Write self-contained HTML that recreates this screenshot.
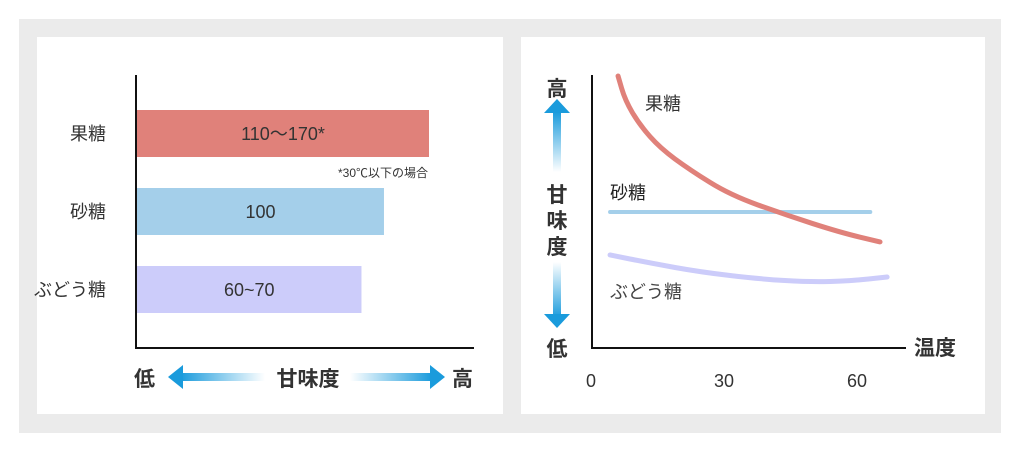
<!DOCTYPE html>
<html><head><meta charset="utf-8"><style>
body{margin:0;background:#fff;}
svg{display:block;font-family:"Liberation Sans","Noto Sans CJK JP",sans-serif;}
</style></head><body>
<svg width="1022" height="452" viewBox="0 0 1022 452">
<defs>
<linearGradient id="gl" x1="0" x2="1" y1="0" y2="0"><stop offset="0" stop-color="#1a9bdc"/><stop offset="1" stop-color="#1a9bdc" stop-opacity="0"/></linearGradient>
<linearGradient id="gr" x1="1" x2="0" y1="0" y2="0"><stop offset="0" stop-color="#1a9bdc"/><stop offset="1" stop-color="#1a9bdc" stop-opacity="0"/></linearGradient>
<linearGradient id="gu" x1="0" x2="0" y1="0" y2="1"><stop offset="0" stop-color="#1a9bdc"/><stop offset="1" stop-color="#1a9bdc" stop-opacity="0"/></linearGradient>
<linearGradient id="gd" x1="0" x2="0" y1="1" y2="0"><stop offset="0" stop-color="#1a9bdc"/><stop offset="1" stop-color="#1a9bdc" stop-opacity="0"/></linearGradient>
</defs>
<rect x="19" y="19" width="982" height="414" fill="#ebebeb"/>
<rect x="37" y="37" width="466" height="377" fill="#fff"/>
<rect x="521" y="37" width="464" height="377" fill="#fff"/>

<g id="bars"></g>
<line x1="136" y1="75" x2="136" y2="349" stroke="#111" stroke-width="2"/>
<line x1="135" y1="348" x2="474" y2="348" stroke="#111" stroke-width="2"/>
<text x="428" y="177" font-size="12" text-anchor="end" fill="#333">*30℃以下の場合</text>

<g font-weight="bold" font-size="21" fill="#333">
<text x="134" y="386">低</text>
<rect x="180" y="373" width="85" height="8" fill="url(#gl)"/>
<polygon points="168,377 183,365 183,389" fill="#1a9bdc"/>
<text x="308" y="386" text-anchor="middle">甘味度</text>
<rect x="350" y="373" width="82" height="8" fill="url(#gr)"/>
<polygon points="445,377 430,365 430,389" fill="#1a9bdc"/>
<text x="452" y="386">高</text>
</g>

<g id="lines"></g>
<line x1="592" y1="75" x2="592" y2="349" stroke="#111" stroke-width="2"/>
<line x1="591" y1="348" x2="906" y2="348" stroke="#111" stroke-width="2"/>
<text x="914" y="355" font-size="21" font-weight="bold" fill="#333">温度</text>
<g id="ticks"></g>

<g font-weight="bold" font-size="21" fill="#333" text-anchor="middle">
<text x="557" y="96">高</text>
<polygon points="557,99 544,113 570,113" fill="#1a9bdc"/>
<rect x="553" y="112" width="8" height="60" fill="url(#gu)"/>
<text x="557" y="202">甘</text>
<text x="557" y="228">味</text>
<text x="557" y="254">度</text>
<rect x="553" y="262" width="8" height="56" fill="url(#gd)"/>
<polygon points="557,328 544,314 570,314" fill="#1a9bdc"/>
<text x="557" y="356">低</text>
</g>
</svg>
<script>
// ---- bar chart data ----
const barCats = ["果糖","砂糖","ぶどう糖"];
const barValues = [170, 100, 65];
const barLabels = ["110～170*","100","60~70"];
const barColors = ["#e0817a","#a4cfea","#ccccfa"];
// ---- line chart data ----
const fructoseT = [6.1,7.7,11,15.6,22.3,31.4,43.8,56.2,65.2];
const fructoseV = [200,182,164,147,131,112.5,98,85,78];
const sucroseT = [4.3,63];
const sucroseV = [100,100];
const glucoseT = [4.3,13.3,24.6,38.1,49.4,58.4,66.8];
const glucoseV = [68.4,62.5,55.9,50.7,48.5,49.3,52.2];
const xTicks = [0,30,60];

const NS="http://www.w3.org/2000/svg";
function mk(tag,attrs,parent){const e=document.createElementNS(NS,tag);for(const k in attrs)e.setAttribute(k,attrs[k]);parent.appendChild(e);return e;}

// bar scale
const bx0=137, bDomMin=-284, bDomMax=170, bW=292;
function bx(v){return bx0+(v-bDomMin)/(bDomMax-bDomMin)*bW;}
const barTop=[110,188,266], barH=47;
const gb=document.getElementById('bars');
barValues.forEach((v,i)=>{
  const r=mk('rect',{x:bx0,y:barTop[i],width:bx(v)-bx0,height:barH,fill:barColors[i]},gb);
  
  
  const t=mk('text',{x:(bx0+bx(v))/2,y:barTop[i]+30,'text-anchor':'middle','font-size':'18',fill:'#333'},gb);
  t.textContent=barLabels[i];
  
  
  const c=mk('text',{x:106,y:barTop[i]+30,'text-anchor':'end','font-size':'18',fill:'#333'},gb);
  c.textContent=barCats[i];
  
  
});

// line scales
function lx(t){return 591+t*4.433;}
function ly(v){return 348-v*1.36;}
const gl=document.getElementById('lines');
function path(ts,vs){let d='';ts.forEach((t,i)=>{const x=lx(t),y=ly(vs[i]);if(i===0)d='M'+x+','+y;else{const px=lx(ts[i-1]),py=ly(vs[i-1]);d+=' Q'+px+','+py+' '+((px+x)/2)+','+((py+y)/2);}});d+=' L'+lx(ts[ts.length-1])+','+ly(vs[vs.length-1]);return d;}
const p2=mk('path',{d:path(glucoseT,glucoseV),fill:'none',stroke:'#ccccfa','stroke-width':5,'stroke-linecap':'round'},gl);


const p3=mk('path',{d:path(sucroseT,sucroseV),fill:'none',stroke:'#a4cfea','stroke-width':4,'stroke-linecap':'round'},gl);


const p1=mk('path',{d:path(fructoseT,fructoseV),fill:'none',stroke:'#e0817a','stroke-width':5,'stroke-linecap':'round'},gl);


const labs=[["果糖",645,110,'#333'],["砂糖",610,199,'#222'],["ぶどう糖",610,298,'#444']];
labs.forEach(l=>{const t=mk('text',{x:l[1],y:l[2],'font-size':'18',fill:l[3]},gl);t.textContent=l[0];
  
  });
const gt=document.getElementById('ticks');
xTicks.forEach(v=>{const t=mk('text',{x:lx(v),y:387,'text-anchor':'middle','font-size':'18',fill:'#333'},gt);t.textContent=v;
  
  });
</script>
</body></html>
